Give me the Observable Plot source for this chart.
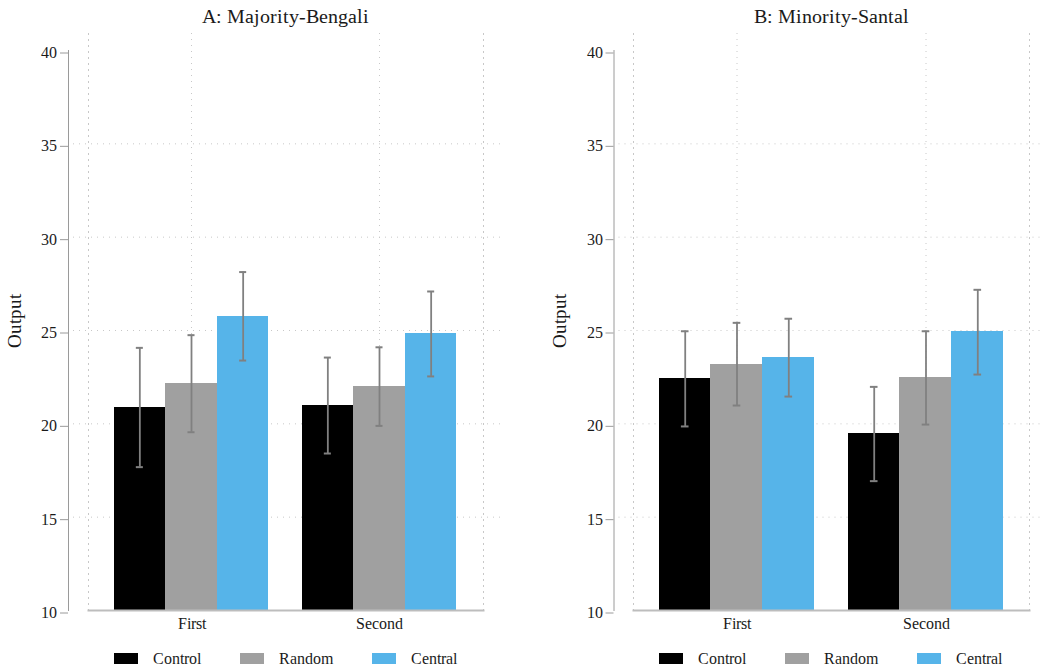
<!DOCTYPE html>
<html>
<head>
<meta charset="utf-8">
<script src="https://cdn.jsdelivr.net/npm/d3@7"></script>
<script src="https://cdn.jsdelivr.net/npm/@observablehq/plot@0.6"></script>
<style>
  @font-face {
    font-family: "RefSerif";
    src: local("Liberation Serif"), local("LiberationSerif"), local("LiberationSerif-Regular"), local("Liberation Serif Regular"), local("Times New Roman"), local("Tinos");
  }
  html, body { margin: 0; padding: 0; background: #fff; }
  body { font-family: "RefSerif", "Liberation Serif", "Times New Roman", "DejaVu Serif", serif; color: #1a1a1a; }
  #wrap { position: relative; width: 1040px; height: 671px; overflow: hidden; }
  .panel { position: absolute; top: 0; }
  .title { position: absolute; top: 5px; font-size: 19.5px; line-height: 24px; text-align: center; white-space: nowrap; }
  .legend { position: absolute; top: 648.5px; display: flex; align-items: center; font-size: 16px; line-height: 20px; white-space: nowrap; }
  .sw { display: inline-block; width: 24px; height: 11px; margin-right: 15px; }
  .lab { margin-right: 39px; position: relative; top: 0.5px; }
</style>
</head>
<body>
<div id="wrap"></div>
<script>
// ---- data ----
const periods = ["First", "Second"];
const treatments = ["Control", "Random", "Central"];
const treatmentColors = ["#000000", "#a0a0a0", "#56b4e9"];
const panelTitles = ["A: Majority-Bengali", "B: Minority-Santal"];
const yTicks = [10, 15, 20, 25, 30, 35, 40];
const yLabel = "Output";
// order: First (Control, Random, Central), Second (Control, Random, Central)
const meanA = [20.87, 22.16, 25.75, 20.98, 22.00, 24.84];
const lowA  = [17.68, 19.55, 23.39, 18.41, 19.89, 22.54];
const highA = [24.07, 24.75, 28.13, 23.55, 24.10, 27.09];
const meanB = [22.43, 23.18, 23.55, 19.48, 22.48, 24.95];
const lowB  = [19.86, 20.98, 21.46, 16.93, 19.96, 22.64];
const highB = [24.96, 25.41, 25.63, 21.98, 24.96, 27.18];

function rowsFor(mean, low, high) {
  return mean.map((m, i) => ({
    period: periods[Math.floor(i / treatments.length)],
    treatment: treatments[i % treatments.length],
    mean: m, low: low[i], high: high[i]
  }));
}

const W = 520, H = 640;
const fontFamily = "RefSerif, 'Liberation Serif', 'Times New Roman', 'DejaVu Serif', serif";

function panel(title, rows, cfg) {
  const pIn = 0.18, pOut = 0.135;
  const bandScale = d3.scaleBand().domain(periods).range(cfg.xRange).paddingInner(pIn).paddingOuter(pOut);
  const bw = bandScale.bandwidth();
  const n = treatments.length;
  const w = bw / n;
  const capW = 8;
  const grid = {stroke: "#c8c8c8", strokeDasharray: "1,5", strokeWidth: 1};
  const errStyle = {stroke: "#808080", strokeWidth: 2};
  const leftInset = cfg.xRange[0] - cfg.ml;
  const rightInset = (W - cfg.mr) - cfg.xRange[1];

  const marks = [
    Plot.ruleY(yTicks.slice(1, -1), {...grid, insetLeft: 5}),
    Plot.ruleX(periods, {x: d => d, y1: yTicks[0], y2: 40.91, ...grid}),
    Plot.frame({anchor: "left", insetLeft: leftInset, insetTop: -17, ...grid}),
    Plot.frame({anchor: "right", insetRight: rightInset, insetTop: -17, ...grid})
  ];
  treatments.forEach((t, k) => {
    marks.push(Plot.barY(rows, {
      filter: d => d.treatment === t, x: "period", y1: yTicks[0], y2: "mean",
      fill: treatmentColors[k], insetLeft: k * w - 0.3, insetRight: (n - 1 - k) * w - 0.3,
      shapeRendering: "crispEdges"
    }));
  });
  treatments.forEach((t, k) => {
    const f = d => d.treatment === t;
    const capInsets = {insetLeft: k * w + (w - capW) / 2, insetRight: (n - 1 - k) * w + (w - capW) / 2};
    marks.push(
      Plot.ruleX(rows, {filter: f, x: "period", y1: "low", y2: "high", dx: (k - (n - 1) / 2) * w, ...errStyle, strokeWidth: 1.8}),
      Plot.tickY(rows, {filter: f, x: "period", y: "high", ...capInsets, ...errStyle}),
      Plot.tickY(rows, {filter: f, x: "period", y: "low", ...capInsets, ...errStyle})
    );
  });
  marks.push(
    Plot.axisY(yTicks, {tickSize: 8, tickPadding: 3.5, stroke: "#9a9a9a", fill: "#1a1a1a", fontSize: 16, dy: 2.5, label: null}),
    Plot.frame({anchor: "left", stroke: "#9a9a9a"}),
    Plot.axisX({tickSize: 0, tickPadding: 7, fontSize: 16, fill: "#1a1a1a", label: null}),
    Plot.frame({anchor: "bottom", insetLeft: leftInset, insetRight: rightInset, stroke: "#bdbdbd", strokeWidth: 2}),
    Plot.text([yLabel], {text: d => d, frameAnchor: "left", rotate: -90, dx: -48, dy: -10,
      lineAnchor: "bottom", textAnchor: "middle", fontSize: 19, fill: "#1a1a1a"})
  );

  const svg = Plot.plot({
    width: W, height: H,
    marginTop: 50, marginBottom: H - 610, marginLeft: cfg.ml, marginRight: cfg.mr,
    style: {fontFamily, fontSize: "16px", background: "transparent", overflow: "visible", color: "#1a1a1a"},
    x: {domain: periods, range: cfg.xRange, paddingInner: pIn, paddingOuter: pOut, label: null},
    y: {domain: [yTicks[0], yTicks[yTicks.length - 1]], range: [610, 50], label: null},
    marks
  });
  svg.classList.add("panel");
  svg.style.left = cfg.left + "px";
  svg.style.fontFamily = fontFamily;

  const wrap = document.getElementById("wrap");
  wrap.appendChild(svg);

  const tdiv = document.createElement("div");
  tdiv.className = "title";
  tdiv.textContent = title;
  tdiv.style.left = (cfg.left + cfg.xRange[0]) + "px";
  tdiv.style.width = (cfg.xRange[1] - cfg.xRange[0]) + "px";
  wrap.appendChild(tdiv);

  const leg = document.createElement("div");
  leg.className = "legend";
  leg.style.left = (cfg.left + bandScale(periods[0])) + "px";
  treatments.forEach((t, k) => {
    const sw = document.createElement("span");
    sw.className = "sw";
    sw.style.background = treatmentColors[k];
    const lab = document.createElement("span");
    lab.className = "lab";
    lab.textContent = t;
    leg.appendChild(sw);
    leg.appendChild(lab);
  });
  wrap.appendChild(leg);
}

panel(panelTitles[0], rowsFor(meanA, lowA, highA), {left: 0, ml: 68, mr: 19, xRange: [88, 483]});
panel(panelTitles[1], rowsFor(meanB, lowB, highB), {left: 520, ml: 93.5, mr: 0, xRange: [113, 509]});
</script>
</body>
</html>
